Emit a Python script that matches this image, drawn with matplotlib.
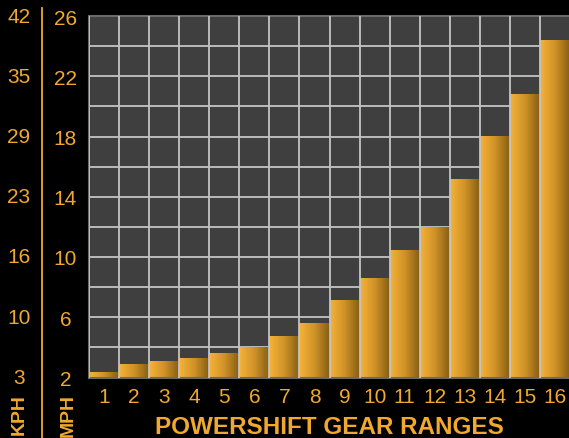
import matplotlib
matplotlib.use("Agg")
import matplotlib.pyplot as plt
import numpy as np
from matplotlib import transforms
from matplotlib.colors import LinearSegmentedColormap

gears = list(range(1, 17))
mph = [2.37, 2.88, 3.08, 3.28, 3.63, 4.03, 4.76, 5.65,
       7.13, 8.59, 10.45, 11.97, 15.16, 18.01, 20.8, 24.38]
mph_ticks = [2, 6, 10, 14, 18, 22, 26]
kph_ticks = [3, 10, 16, 23, 29, 35, 42]

GOLD = "#f0a92e"
plt.rcParams["font.family"] = ["Liberation Sans", "DejaVu Sans"]

fig = plt.figure(figsize=(5.69, 4.39), dpi=100)
fig.patch.set_facecolor("black")
ax = fig.add_axes([89 / 569, 1 - 378.5 / 439, 1 - 89 / 569 + 0.002, (378.5 - 17) / 439])
ax.set_facecolor("#3f3f3f")

# horizontal grid behind the bars
ax.set_yticks(range(2, 27, 2))
ax.set_yticklabels([str(t) if t in mph_ticks else "" for t in range(2, 27, 2)])
ax.yaxis.grid(True, color="#c4c4c4", lw=1.3, zorder=0)
ax.set_axisbelow(True)

# gradient bars: bright on the left, dark on the right
cmap = LinearSegmentedColormap.from_list("gold", ["#f5b237", "#cf9228", "#875e13"])
n = 48
shade = np.linspace(0, 1, n).reshape(1, -1)
for g, v in zip(gears, mph):
    xs = np.linspace(g - 0.5, g + 0.5, n + 1)
    ax.pcolormesh(xs, [2, v], shade, cmap=cmap, vmin=0, vmax=1,
                  shading="flat", zorder=2, edgecolors="none", antialiased=False)

# vertical separators over the bars
for b in np.arange(0.5, 17, 1):
    ax.axvline(b, color="#c4c4c4", lw=1.3, zorder=3)

ax.set_xlim(0.5, 16.5)
ax.set_ylim(2, 26)
ax.set_xticks(gears)
ax.set_xticklabels([str(g) for g in gears])
ax.tick_params(axis="both", length=0, colors=GOLD, labelsize=15)
ax.tick_params(axis="x", pad=7)
ax.tick_params(axis="y", pad=17)
for lab in ax.get_yticklabels():
    lab.set_horizontalalignment("center")

for side in ["left", "top", "bottom"]:
    ax.spines[side].set_color("#6a6a6a")
    ax.spines[side].set_linewidth(1.5)
ax.spines["right"].set_visible(False)

# KPH scale
trans = transforms.blended_transform_factory(fig.transFigure, ax.transData)
for m, k in zip(mph_ticks, kph_ticks):
    ax.text(19 / 569, m, str(k), transform=trans, ha="center", va="center",
            color=GOLD, fontsize=15, clip_on=False)

fig.add_artist(plt.Line2D([41.7 / 569, 41.7 / 569], [0, 1 - 9 / 439],
                          color=GOLD, lw=1.3))

fig.text(19 / 569, 1 - 394 / 439, "KPH", rotation=90, ha="center", va="top",
         color=GOLD, fontsize=14, fontweight="bold")
fig.text(68 / 569, 1 - 394 / 439, "MPH", rotation=90, ha="center", va="top",
         color=GOLD, fontsize=14, fontweight="bold")

ax.set_xlabel("POWERSHIFT GEAR RANGES", color=GOLD, fontsize=17.5,
              fontweight="bold", labelpad=6)

fig.savefig("out.png", dpi=100, facecolor="black")
